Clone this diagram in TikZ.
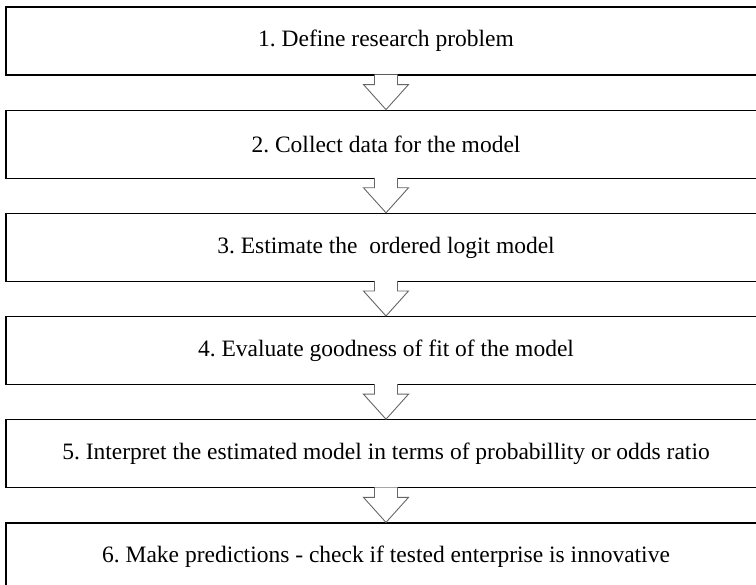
\documentclass[tikz,border=0pt]{standalone}
\usepackage{fontspec}
\setmainfont{Liberation Serif}
\usepackage{tikz}
\usetikzlibrary{positioning}
\tikzstyle{stage} = [draw=black, line width=1.2pt, fill=white, rectangle,
    minimum width=760pt, minimum height=68pt, inner sep=0pt,
    font=\fontsize{23.5}{27}\selectfont\frenchspacing]
\tikzstyle{flow} = [draw=black!60, line width=0.9pt, fill=white, line join=miter]

\begin{document}
\begin{tikzpicture}[x=1pt, y=1pt, node distance=34pt]
	  \useasboundingbox (0,0) rectangle (756,-585);
	  \clip (0,0) rectangle (756,-585);
	  \node [stage] at (386,-41) (s1) {1. Define research problem};
	  \node [stage, below=of s1] (s2) {2. Collect data for the model};
	  \node [stage, below=of s2] (s3) {3. Estimate the\ \ ordered logit model};
	  \node [stage, below=of s3] (s4) {4. Evaluate goodness of fit of the model};
	  \node [stage, below=of s4] (s5) {5. Interpret the estimated model in terms of probabillity or odds ratio};
	  \node [stage, below=of s5] (s6) {6. Make predictions - check if tested enterprise is innovative};
	  \draw [flow] ([xshift=-11.5pt,yshift=1pt]s1.south) -- ++(0,-10) -- ++(-11,0) -- (s2.north) -- ++(22.5,25) -- ++(-11,0) -- ++(0,10);
	  \draw [flow] ([xshift=-11.5pt,yshift=1pt]s2.south) -- ++(0,-10) -- ++(-11,0) -- (s3.north) -- ++(22.5,25) -- ++(-11,0) -- ++(0,10);
	  \draw [flow] ([xshift=-11.5pt,yshift=1pt]s3.south) -- ++(0,-10) -- ++(-11,0) -- (s4.north) -- ++(22.5,25) -- ++(-11,0) -- ++(0,10);
	  \draw [flow] ([xshift=-11.5pt,yshift=1pt]s4.south) -- ++(0,-10) -- ++(-11,0) -- (s5.north) -- ++(22.5,25) -- ++(-11,0) -- ++(0,10);
	  \draw [flow] ([xshift=-11.5pt,yshift=1pt]s5.south) -- ++(0,-10) -- ++(-11,0) -- (s6.north) -- ++(22.5,25) -- ++(-11,0) -- ++(0,10);
	\end{tikzpicture}
\end{document}
